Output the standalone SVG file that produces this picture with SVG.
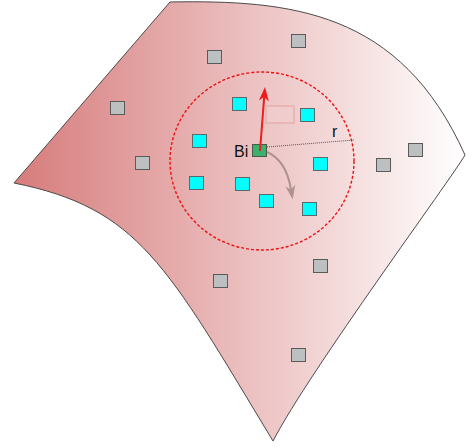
<svg xmlns="http://www.w3.org/2000/svg" width="466" height="447" viewBox="0 0 466 447">
  <defs>
    <linearGradient id="sheet" gradientUnits="userSpaceOnUse" x1="14" y1="0" x2="466" y2="0">
      <stop offset="0" stop-color="#d77c7c"/>
      <stop offset="1" stop-color="#ffffff"/>
    </linearGradient>
    <marker id="redHead" markerUnits="userSpaceOnUse" markerWidth="14" markerHeight="10" refX="4" refY="5" orient="auto" overflow="visible">
      <path d="M0,0 L14,5 L0,10 L4,5 Z" fill="#ee1c1c"/>
    </marker>
    <marker id="grayHead" markerUnits="userSpaceOnUse" markerWidth="14" markerHeight="10" refX="4" refY="5" orient="auto" overflow="visible">
      <path d="M0,0 L14,5 L0,10 L4,5 Z" fill="#b09090"/>
    </marker>
  </defs>
  <style>
    .gray { fill: #bcc0c0; stroke: #5a5a5a; stroke-width: 1; }
    .cyan { fill: #00ffff; stroke: #5a6a6a; stroke-width: 1; }
    .green { fill: #3cb06c; stroke: #4a5a4a; stroke-width: 1; }
    .lbl { font-family: "Liberation Sans", Arial, sans-serif; font-size: 16px; fill: #111; }
  </style>

  <g id="surface">
    <path d="M170,2 C290,0 400,10 465,155 C452,178 310,370 273,441 C166,264 138.5,208 14,183 Z" fill="url(#sheet)" stroke="#4a4a4a" stroke-width="1"/>
  </g>

  <g id="neighbourhood">
    <ellipse cx="262" cy="161" rx="92" ry="89" fill="none" stroke="#ee1111" stroke-width="1.4" stroke-dasharray="3,2"/>
  </g>

  <g id="ghost-box">
    <rect x="266" y="106" width="28" height="17" fill="#f2d0d0" fill-opacity="0.5" stroke="#e6b0b0" stroke-width="2" stroke-opacity="0.8"/>
  </g>

  <g id="far-nodes">
    <rect id="g1" class="gray" x="207.5" y="50.5" width="14" height="13"/>
    <rect id="g2" class="gray" x="291.5" y="34.5" width="14" height="13"/>
    <rect id="g3" class="gray" x="110.5" y="101.5" width="14" height="13"/>
    <rect id="g4" class="gray" x="135.5" y="156.5" width="14" height="13"/>
    <rect id="g5" class="gray" x="376.5" y="158.5" width="14" height="13"/>
    <rect id="g6" class="gray" x="408.5" y="143.5" width="14" height="13"/>
    <rect id="g7" class="gray" x="213.5" y="274.5" width="14" height="13"/>
    <rect id="g8" class="gray" x="313.5" y="259.5" width="14" height="13"/>
    <rect id="g9" class="gray" x="291.5" y="348.5" width="14" height="13"/>
  </g>

  <g id="near-nodes">
    <rect id="c1" class="cyan" x="232.5" y="97.5" width="14" height="13"/>
    <rect id="c2" class="cyan" x="300.5" y="108.5" width="14" height="13"/>
    <rect id="c3" class="cyan" x="192.5" y="134.5" width="14" height="13"/>
    <rect id="c4" class="cyan" x="313.5" y="157.5" width="14" height="13"/>
    <rect id="c5" class="cyan" x="189.5" y="176.5" width="14" height="13"/>
    <rect id="c6" class="cyan" x="235.5" y="177.5" width="14" height="13"/>
    <rect id="c7" class="cyan" x="259.5" y="194.5" width="14" height="13"/>
    <rect id="c8" class="cyan" x="302.5" y="202.5" width="14" height="13"/>
  </g>

  <g id="connectors">
    <line x1="267" y1="147" x2="354" y2="140" stroke="#555" stroke-width="1" stroke-dasharray="1,1"/>
    <path d="M267,152 Q286,160 291,189.5" fill="none" stroke="#b09090" stroke-width="2" marker-end="url(#grayHead)"/>
  </g>

  <g id="Bi">
    <rect class="green" x="252.5" y="144.5" width="14" height="12"/>
    <text class="lbl" x="234" y="157">Bi</text>
  </g>

  <g id="velocity">
    <line x1="260" y1="151" x2="264.2" y2="97" stroke="#ee1c1c" stroke-width="2" marker-end="url(#redHead)"/>
  </g>

  <g id="radius-label">
    <text class="lbl" x="332" y="137">r</text>
  </g>
</svg>
